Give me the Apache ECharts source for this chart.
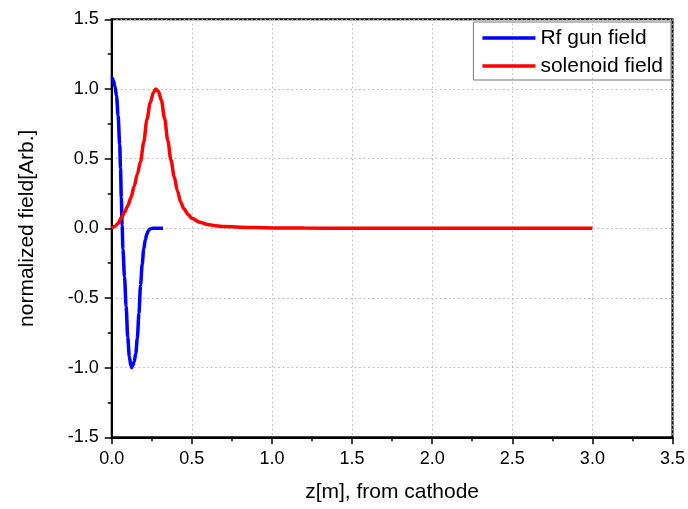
<!DOCTYPE html>
<html>
<head>
<meta charset="utf-8">
<script src="https://cdn.jsdelivr.net/npm/echarts@6/dist/echarts.min.js"></script>
<style>html,body{margin:0;padding:0;background:#fff}#c{width:688px;height:509px}</style>
</head>
<body>
<div id="c"></div>
<script>
const rfZ = [0, 0.005, 0.01, 0.02, 0.03, 0.04, 0.05, 0.055, 0.06, 0.065, 0.07, 0.08, 0.09, 0.10, 0.11, 0.12, 0.125, 0.13, 0.14, 0.15, 0.16, 0.17, 0.18, 0.19, 0.20, 0.21, 0.22, 0.23, 0.24, 0.25, 0.26, 0.28, 0.30, 0.32];
const rfField = [1.07, 1.075, 1.06, 1.02, 0.95, 0.81, 0.60, 0.43, 0.22, 0.02, -0.15, -0.35, -0.56, -0.78, -0.92, -0.99, -1.0, -0.99, -0.96, -0.90, -0.79, -0.61, -0.41, -0.26, -0.15, -0.08, -0.04, -0.015, -0.005, -0.001, 0, 0, 0, 0];
const solZ = [0, 0.02, 0.04, 0.06, 0.08, 0.10, 0.12, 0.14, 0.16, 0.18, 0.20, 0.22, 0.24, 0.26, 0.275, 0.29, 0.31, 0.33, 0.35, 0.37, 0.39, 0.41, 0.43, 0.45, 0.48, 0.50, 0.55, 0.60, 0.65, 0.70, 0.80, 0.90, 1.0, 1.2, 1.5, 2.0, 2.5, 3.0];
const solField = [0, 0.015, 0.035, 0.075, 0.115, 0.16, 0.22, 0.30, 0.39, 0.48, 0.62, 0.78, 0.90, 0.975, 1.0, 0.985, 0.92, 0.79, 0.63, 0.49, 0.37, 0.27, 0.19, 0.14, 0.095, 0.072, 0.043, 0.027, 0.018, 0.013, 0.008, 0.005, 0.003, 0.0015, 0.0008, 0.0003, 0.0001, 0];
const xTicks = { min: 0, max: 3.5, interval: 0.5 };
const yTicks = { min: -1.5, max: 1.5, interval: 0.5 };
const seriesNames = ['Rf gun field', 'solenoid field'];

const font = 'Arial, "Liberation Sans", sans-serif';
const chart = echarts.init(document.getElementById('c'), null, { renderer: 'canvas' });
function axisCommon() {
  return {
    type: 'value',
    axisLine: { show: true, onZero: false, lineStyle: { color: '#000', width: 2 } },
    axisTick: { show: true, inside: false, length: 7, lineStyle: { color: '#000', width: 1.5 } },
    minorTick: { show: true, splitNumber: 2, length: 4, lineStyle: { color: '#000', width: 1.5 } },
    splitLine: { show: true, lineStyle: { color: '#b5b5b5', type: [1.5, 3], width: 1 } },
    axisLabel: { color: '#000', fontSize: 18, fontFamily: font, margin: 13, formatter: v => v.toFixed(1) },
    nameTextStyle: { color: '#000', fontSize: 21, fontFamily: font }
  };
}
const option = {
  backgroundColor: '#fff',
  animation: false,
  grid: { left: 111.7, right: 11.3, top: 19.3, bottom: 71.7, show: true, borderColor: '#000', borderWidth: 2, containLabel: false },
  legend: {
    orient: 'vertical', right: 17, top: 22,
    borderColor: '#777', borderWidth: 1, padding: [5, 8, 3, 9],
    icon: 'rect', itemWidth: 53, itemHeight: 3.5, itemGap: 6,
    textStyle: { color: '#000', fontSize: 21, fontFamily: font, lineHeight: 22 },
    data: seriesNames
  },
  xAxis: Object.assign(axisCommon(), {
    min: xTicks.min, max: xTicks.max, interval: xTicks.interval,
    name: 'z[m], from cathode', nameLocation: 'middle', nameGap: 44
  }),
  yAxis: Object.assign(axisCommon(), {
    min: yTicks.min, max: yTicks.max, interval: yTicks.interval,
    name: 'normalized field[Arb.]', nameLocation: 'middle', nameGap: 74
  }),
  series: [
    {
      name: seriesNames[0], type: 'line', symbol: 'none', smooth: 0.3, smoothMonotone: 'x',
      lineStyle: { color: '#0000ff', width: 3.5 }, itemStyle: { color: '#0000ff' },
      data: rfZ.map((z, i) => [z, rfField[i]])
    },
    {
      name: seriesNames[1], type: 'line', symbol: 'none', smooth: 0.3, smoothMonotone: 'x',
      lineStyle: { color: '#ff0000', width: 3.5 }, itemStyle: { color: '#ff0000' },
      data: solZ.map((z, i) => [z, solField[i]])
    }
  ]
};
chart.setOption(option);
</script>
</body>
</html>
